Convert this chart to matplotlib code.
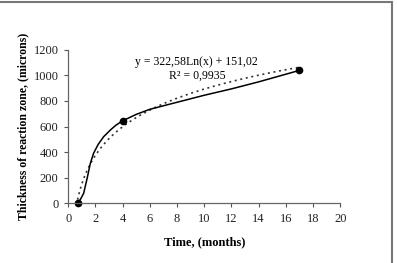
import numpy as np
import matplotlib
matplotlib.use("Agg")
import matplotlib.pyplot as plt
from matplotlib.lines import Line2D

# Measured data points (markers)
time_pts = [0.68, 4, 17]
thick_pts = [0, 645, 1040]

# Smooth curve through data
curve_x = [0.68, 0.9, 1.13, 1.4, 1.62, 1.86, 2.2, 2.6, 3.1, 3.5, 4.0, 5.0, 6.0, 8.0, 10.0, 12.0, 14.0, 17.0]
curve_y = [0, 30, 76, 200, 311, 390, 460, 520, 573, 610, 645, 695, 735, 790, 845, 895, 950, 1040]

# Logarithmic trendline coefficients (from the chart label)
trend_a = 322.58
trend_b = 151.02
trend_label = "y = 322,58Ln(x) + 151,02"
r2_label = "R² = 0,9935"

xticks = list(range(0, 21, 2))
yticks = list(range(0, 1201, 200))

plt.rcParams['font.family'] = ['Liberation Serif', 'DejaVu Serif']

fig = plt.figure(figsize=(3.97, 2.63), dpi=100)
ax = fig.add_axes([0.172, 0.228, 0.685, 0.582])

tx = np.linspace(min(time_pts), max(time_pts), 200)
ty = trend_a * np.log(tx) + trend_b
ax.plot(tx, ty, color='#333333', lw=1.2, linestyle=(0, (1.2, 2.2)))
ax.plot(curve_x, curve_y, color='black', lw=1.1)
ax.plot(time_pts, thick_pts, 'o', color='black', ms=4.5, clip_on=False)

ax.set_xlim(0, 20)
ax.set_ylim(0, 1200)
ax.set_xticks(xticks)
ax.set_yticks(yticks)
ax.tick_params(labelsize=9, colors='#555555', length=3, width=0.8, direction='out', pad=4)
for t in ax.get_xticklabels() + ax.get_yticklabels():
    t.set_color('#222222')
for s in ['top', 'right']:
    ax.spines[s].set_visible(False)
for s in ['left', 'bottom']:
    ax.spines[s].set_color('#666666')
    ax.spines[s].set_linewidth(0.9)

ax.set_xlabel("Time, (months)", fontsize=9, fontweight='bold', labelpad=8)
ax.set_ylabel("Thickness of reaction zone, (microns)", fontsize=8.5, fontweight='bold', labelpad=3)

ax.text(9.45, 1106, trend_label, fontsize=8.5, ha='center', va='center')
ax.text(9.5, 996, r2_label, fontsize=8.5, ha='center', va='center')

# frame remnants (top and right border)
fig.add_artist(Line2D([0, 392/397], [1-2/263, 1-2/263], transform=fig.transFigure, color='#777777', lw=1.5))
fig.add_artist(Line2D([392/397, 392/397], [0, 1-2/263], transform=fig.transFigure, color='#777777', lw=1.5))

fig.savefig("out.png", dpi=100)
